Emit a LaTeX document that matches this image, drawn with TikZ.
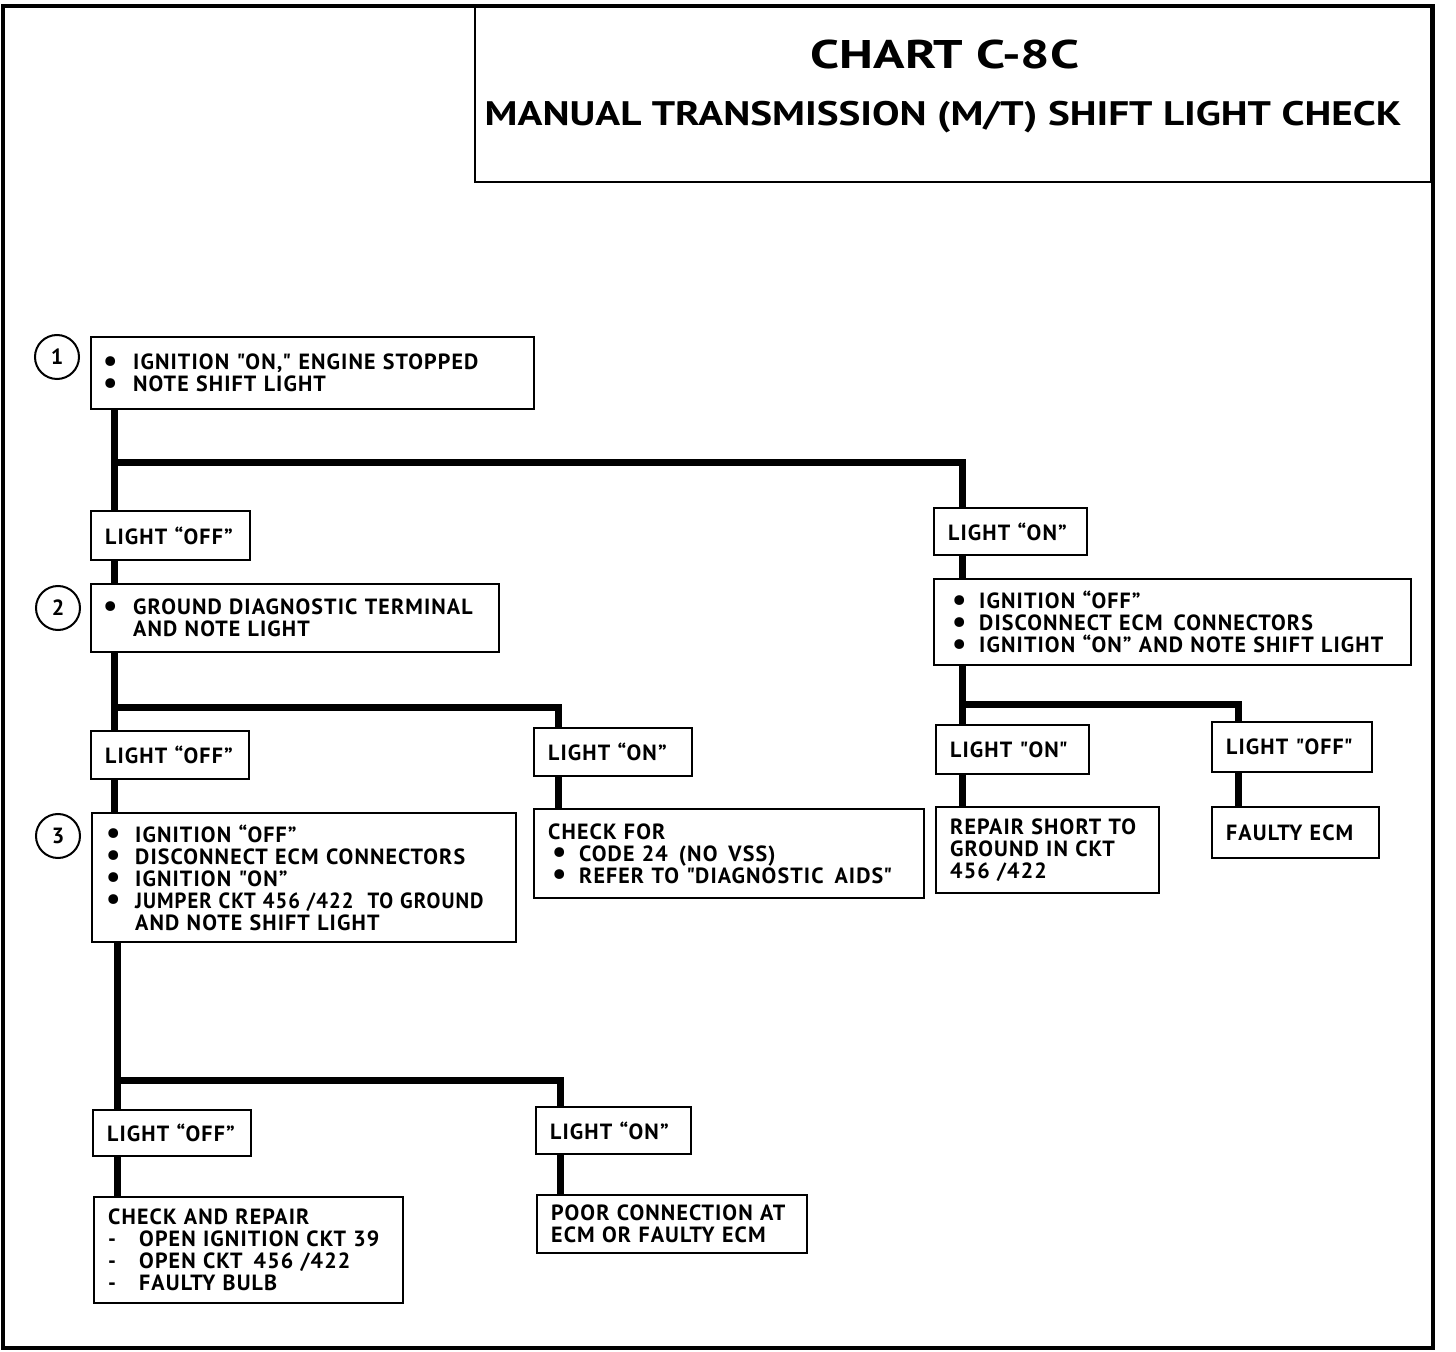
\documentclass[tikz,border=0pt]{standalone}
\usepackage{fontspec}
\usepackage{graphicx}
\setmainfont{PT Sans}[LetterSpace=5]
\newfontfamily\headfont{PT Sans}

\newcommand{\bigdot}{\raisebox{-0.12ex}[0pt][0pt]{\scalebox{1.45}{\textbullet}}}
\newcommand{\itm}[1][14pt]{\makebox[#1][l]{\hspace*{-1pt}\bigdot}}
\newcommand{\dsh}{\makebox[15.5pt][l]{-}}
\newcommand{\qd}{\textquotedbl}

\begin{document}
\begin{tikzpicture}[x=0.5pt,y=-0.5pt,
  font=\bfseries\fontsize{11}{11}\selectfont,
  box/.style n args={2}{rectangle,draw,line width=1.2pt,fill=white,
    anchor=north west,align=left,inner xsep=7pt,inner ysep=0pt,
    minimum width=#1,minimum height=#2,text width=#1-14pt},
  num/.style={circle,draw,line width=1pt,minimum size=22pt,inner sep=0pt},
  wire/.style={line width=3.5pt}]
  \useasboundingbox (0,0) rectangle (1456,1352);

  % frame and title
  \draw[line width=2pt] (3,6) rectangle (1433,1348);
  \node[rectangle,draw,line width=1.2pt,anchor=north west,
    minimum width=478pt,minimum height=87.5pt] (head) at (474,6) {};
  \node[font=\headfont\bfseries\fontsize{20}{20}\selectfont] (chart) at (945,55)
    {\scalebox{1.3}[1]{CHART C-8C}};
  \node[font=\headfont\bfseries\fontsize{17}{17}\selectfont] (subj) at (943,117)
    {\scalebox{1.21}[1]{MANUAL TRANSMISSION (M/T) SHIFT LIGHT CHECK}};

  % step numbers
  \node[num] (c1) at (57,357) {1};
  \node[num] (c2) at (58,608) {2};
  \node[num] (c3) at (58,836) {3};

  % left column
  \node[box={221.5pt}{36pt}] (b1) at (90,336)
    {\itm IGNITION \qd ON,\qd\ ENGINE STOPPED\\ \itm NOTE SHIFT LIGHT};
  \node[box={79.5pt}{24.5pt}] (off1) at (90,510) {LIGHT “OFF”};
  \node[box={204pt}{34pt}] (b2) at (90,583)
    {\itm GROUND DIAGNOSTIC TERMINAL\\ \hspace*{14pt}AND NOTE LIGHT};
  \node[box={79pt}{24pt}] (off2) at (90,730) {LIGHT “OFF”};
  \node[box={212pt}{64.5pt}] (b3) at (91,812)
    {\hspace*{1pt}\itm[13.5pt]IGNITION “OFF”\\ \hspace*{1pt}\itm[13.5pt]DISCONNECT ECM CONNECTORS\\
     \hspace*{1pt}\itm[13.5pt]IGNITION \qd ON”\\
     \hspace*{1pt}\itm[13.5pt]\scalebox{0.94}[1]{JUMPER CKT 456 /422\ \ TO GROUND}\\
     \hspace*{14.5pt}AND NOTE SHIFT LIGHT};
  \node[box={79pt}{23pt}] (off3) at (92,1109) {LIGHT “OFF”};
  \node[box={154.5pt}{53pt}] (rep) at (93,1196)
    {CHECK AND REPAIR\\ \dsh OPEN IGNITION CKT 39\\ \dsh OPEN CKT \,456 /422\\ \dsh FAULTY BULB};

  % middle column
  \node[box={79pt}{24pt}] (on2) at (533,727) {LIGHT “ON”};
  \node[box={195pt}{44.5pt}] (chk) at (533,808)
    {CHECK FOR\\ \hspace*{3pt}\itm[12.5pt]CODE 24 \,(NO \,VSS)\\
     \hspace*{3pt}\itm[12.5pt]REFER TO \qd DIAGNOSTIC \,AIDS\qd};
  \node[box={77.5pt}{23.5pt}] (on3) at (535,1106) {LIGHT “ON”};
  \node[box={135pt}{29pt}] (poor) at (536,1194)
    {POOR CONNECTION AT\\ ECM OR FAULTY ECM};

  % right column
  \node[box={76.5pt}{23.5pt}] (on1) at (933,507) {LIGHT “ON”};
  \node[box={238.5pt}{43pt}] (b4) at (933,578)
    {\hspace*{3pt}\itm[12.5pt]IGNITION “OFF”\\ \hspace*{3pt}\itm[12.5pt]DISCONNECT ECM \,CONNECTORS\\
     \hspace*{3pt}\itm[12.5pt]IGNITION “ON” AND NOTE SHIFT LIGHT};
  \node[box={76.5pt}{24.5pt}] (on4) at (935,724) {LIGHT \qd ON\qd};
  \node[box={111.5pt}{43pt}] (shrt) at (935,806)
    {REPAIR SHORT TO\\ GROUND IN CKT\\ 456 /422};
  \node[box={80pt}{25pt}] (off4) at (1211,721) {LIGHT \qd OFF\qd};
  \node[box={83.5pt}{25.5pt}] (ecm) at (1211,806) {FAULTY ECM};

  % branch points
  \coordinate (j1) at (114,463);
  \coordinate (j2) at (114,707);
  \coordinate (j3) at (117,1080);
  \coordinate (j4) at (962,704);

  \draw[wire] ([xshift=12pt]b1.south west) -- ([xshift=12pt]b1.south west |- off1.north);
  \draw[wire] (j1) -| ([xshift=14.5pt]on1.north west);
  \draw[wire] ([xshift=12pt]off1.south west) -- ([xshift=12pt]off1.south west |- b2.north);
  \draw[wire] ([xshift=12pt]b2.south west) -- ([xshift=12pt]b2.south west |- off2.north);
  \draw[wire] (j2) -| ([xshift=12.5pt]on2.north west);
  \draw[wire] ([xshift=12.5pt]on2.south west) -- ([xshift=12.5pt]on2.south west |- chk.north);
  \draw[wire] ([xshift=12pt]off2.south west) -- ([xshift=12pt]off2.south west |- b3.north);
  \draw[wire] ([xshift=13pt]b3.south west) -- ([xshift=13pt]b3.south west |- off3.north);
  \draw[wire] (j3) -| ([xshift=12.5pt]on3.north west);
  \draw[wire] ([xshift=12.5pt]off3.south west) -- ([xshift=12.5pt]off3.south west |- rep.north);
  \draw[wire] ([xshift=12.5pt]on3.south west) -- ([xshift=12.5pt]on3.south west |- poor.north);
  \draw[wire] ([xshift=14.5pt]on1.south west) -- ([xshift=14.5pt]on1.south west |- b4.north);
  \draw[wire] ([xshift=14.5pt]b4.south west) -- ([xshift=14.5pt]b4.south west |- on4.north);
  \draw[wire] (j4) -| ([xshift=13.5pt]off4.north west);
  \draw[wire] ([xshift=13.5pt]on4.south west) -- ([xshift=13.5pt]on4.south west |- shrt.north);
  \draw[wire] ([xshift=13.5pt]off4.south west) -- ([xshift=13.5pt]off4.south west |- ecm.north);
\end{tikzpicture}
\end{document}
